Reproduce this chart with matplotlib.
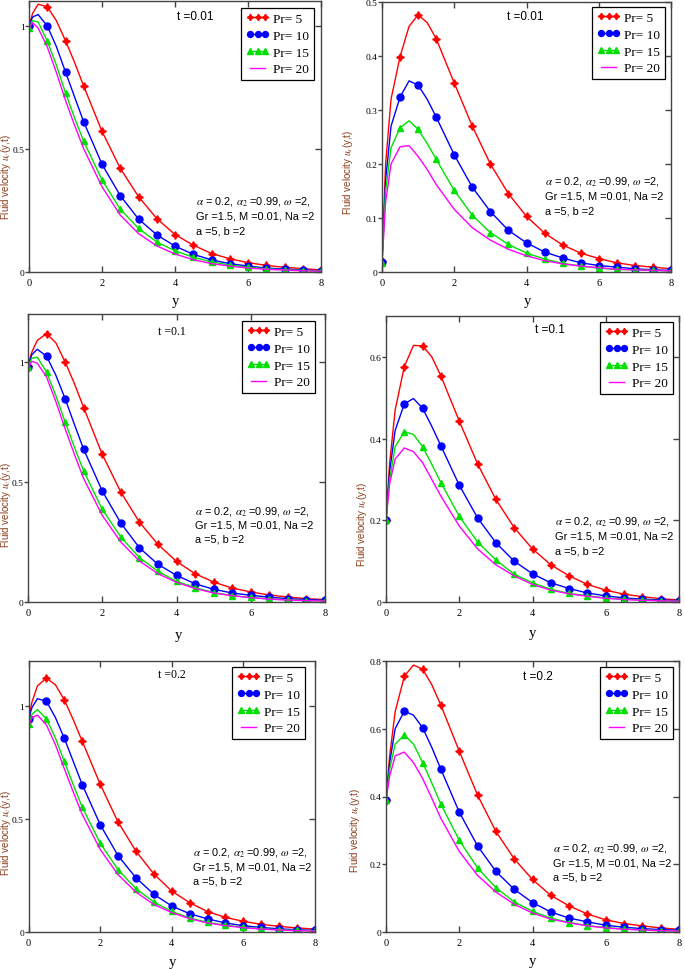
import matplotlib
matplotlib.use("Agg")
import matplotlib.pyplot as plt
from matplotlib.lines import Line2D
from matplotlib.ticker import FormatStrFormatter

# ---------------- data ----------------
Y = [0, 0.1, 0.25, 0.5, 0.75, 1, 1.25, 1.5, 2, 2.5, 3, 3.5, 4, 4.5, 5, 5.5, 6, 6.5, 7, 7.5, 8]
PR_LABELS = ["Pr= 5", "Pr= 10", "Pr= 15", "Pr= 20"]
T_LABELS = ["t =0.01", "t =0.1", "t =0.2"]

# t = 0.01, u_c
uc_t1_pr5 = [1.0, 1.05, 1.087, 1.077, 1.02, 0.939, 0.85, 0.754, 0.571, 0.421, 0.306, 0.217, 0.152, 0.109, 0.075, 0.054, 0.038, 0.027, 0.019, 0.014, 0.008]
uc_t1_pr10 = [1.0, 1.035, 1.045, 0.999, 0.915, 0.812, 0.71, 0.609, 0.4375, 0.31, 0.215, 0.151, 0.105, 0.072, 0.049, 0.034, 0.024, 0.016, 0.012, 0.008, 0.005]
uc_t1_pr15 = [0.99, 1.02, 1.015, 0.9375, 0.84, 0.727, 0.625, 0.53, 0.374, 0.255, 0.177, 0.122, 0.086, 0.06, 0.041, 0.028, 0.019, 0.013, 0.009, 0.006, 0.004]
uc_t1_pr20 = [0.99, 1.012, 0.99, 0.914, 0.81, 0.697, 0.595, 0.5, 0.346, 0.231, 0.156, 0.106, 0.073, 0.05, 0.034, 0.024, 0.016, 0.011, 0.008, 0.005, 0.003]

# t = 0.01, u_s
us_t1_pr5 = [0.02, 0.2, 0.32, 0.399, 0.455, 0.476, 0.462, 0.432, 0.35, 0.27, 0.2, 0.145, 0.103, 0.072, 0.05, 0.035, 0.025, 0.017, 0.012, 0.009, 0.006]
us_t1_pr10 = [0.019, 0.17, 0.27, 0.324, 0.354, 0.346, 0.32, 0.287, 0.217, 0.157, 0.112, 0.077, 0.054, 0.037, 0.026, 0.017, 0.012, 0.009, 0.006, 0.004, 0.003]
us_t1_pr15 = [0.017, 0.15, 0.23, 0.267, 0.28, 0.264, 0.238, 0.209, 0.151, 0.105, 0.073, 0.051, 0.035, 0.024, 0.016, 0.011, 0.007, 0.005, 0.004, 0.003, 0.002]
us_t1_pr20 = [0.015, 0.13, 0.2, 0.232, 0.234, 0.214, 0.19, 0.162, 0.116, 0.082, 0.059, 0.042, 0.03, 0.021, 0.015, 0.011, 0.008, 0.005, 0.004, 0.003, 0.002]

# t = 0.1, u_c
uc_t2_pr5 = [0.985, 1.04, 1.09, 1.118, 1.08, 1.0, 0.91, 0.81, 0.615, 0.458, 0.333, 0.24, 0.169, 0.118, 0.083, 0.058, 0.042, 0.029, 0.021, 0.014, 0.01]
uc_t2_pr10 = [0.98, 1.03, 1.053, 1.024, 0.945, 0.847, 0.74, 0.636, 0.4625, 0.329, 0.226, 0.157, 0.111, 0.076, 0.053, 0.0375, 0.028, 0.02, 0.014, 0.01, 0.007]
uc_t2_pr15 = [0.979, 1.015, 1.02, 0.958, 0.86, 0.75, 0.645, 0.546, 0.386, 0.271, 0.185, 0.128, 0.086, 0.06, 0.039, 0.027, 0.019, 0.013, 0.009, 0.006, 0.004]
uc_t2_pr20 = [0.975, 1.003, 0.995, 0.9375, 0.835, 0.722, 0.615, 0.514, 0.361, 0.25, 0.171, 0.118, 0.082, 0.056, 0.0375, 0.026, 0.018, 0.012, 0.008, 0.006, 0.004]

# t = 0.1, u_s
us_t2_pr5 = [0.2, 0.34, 0.47, 0.576, 0.628, 0.627, 0.6, 0.553, 0.443, 0.338, 0.251, 0.182, 0.13, 0.091, 0.064, 0.043, 0.029, 0.019, 0.013, 0.008, 0.005]
us_t2_pr10 = [0.2, 0.32, 0.42, 0.485, 0.498, 0.474, 0.43, 0.382, 0.286, 0.206, 0.145, 0.1, 0.069, 0.047, 0.033, 0.022, 0.015, 0.01, 0.007, 0.005, 0.003]
us_t2_pr15 = [0.2, 0.3, 0.38, 0.417, 0.41, 0.38, 0.337, 0.292, 0.21, 0.147, 0.103, 0.068, 0.047, 0.031, 0.021, 0.015, 0.01, 0.007, 0.005, 0.003, 0.002]
us_t2_pr20 = [0.2, 0.29, 0.35, 0.377, 0.368, 0.341, 0.3, 0.259, 0.186, 0.13, 0.091, 0.064, 0.043, 0.029, 0.02, 0.014, 0.009, 0.006, 0.004, 0.003, 0.002]

# t = 0.2, u_c
uc_t3_pr5 = [0.951, 1.02, 1.09, 1.124, 1.095, 1.028, 0.94, 0.845, 0.655, 0.487, 0.358, 0.257, 0.181, 0.13, 0.09, 0.065, 0.047, 0.034, 0.025, 0.018, 0.013]
uc_t3_pr10 = [0.944, 0.995, 1.033, 1.022, 0.95, 0.858, 0.755, 0.653, 0.476, 0.338, 0.24, 0.167, 0.115, 0.081, 0.058, 0.04, 0.028, 0.02, 0.014, 0.01, 0.007]
uc_t3_pr15 = [0.922, 0.965, 0.985, 0.944, 0.86, 0.755, 0.652, 0.553, 0.394, 0.276, 0.192, 0.133, 0.091, 0.062, 0.043, 0.03, 0.021, 0.014, 0.01, 0.007, 0.005]
uc_t3_pr20 = [0.91, 0.95, 0.96, 0.917, 0.83, 0.723, 0.62, 0.521, 0.366, 0.254, 0.177, 0.122, 0.086, 0.059, 0.04, 0.028, 0.019, 0.013, 0.009, 0.006, 0.004]

# t = 0.2, u_s
us_t3_pr5 = [0.389, 0.52, 0.65, 0.755, 0.788, 0.776, 0.73, 0.669, 0.534, 0.404, 0.297, 0.216, 0.155, 0.108, 0.077, 0.053, 0.036, 0.025, 0.018, 0.012, 0.008]
us_t3_pr10 = [0.389, 0.5, 0.6, 0.652, 0.64, 0.603, 0.545, 0.48, 0.354, 0.254, 0.179, 0.126, 0.087, 0.059, 0.041, 0.03, 0.02, 0.014, 0.01, 0.007, 0.005]
us_t3_pr15 = [0.389, 0.48, 0.555, 0.581, 0.555, 0.5, 0.44, 0.377, 0.271, 0.189, 0.131, 0.089, 0.061, 0.041, 0.028, 0.019, 0.013, 0.009, 0.006, 0.004, 0.003]
us_t3_pr20 = [0.389, 0.46, 0.52, 0.531, 0.5, 0.453, 0.395, 0.335, 0.238, 0.167, 0.118, 0.082, 0.056, 0.038, 0.027, 0.018, 0.012, 0.008, 0.006, 0.004, 0.003]

PANEL_SERIES = [
    [uc_t1_pr5, uc_t1_pr10, uc_t1_pr15, uc_t1_pr20],
    [us_t1_pr5, us_t1_pr10, us_t1_pr15, us_t1_pr20],
    [uc_t2_pr5, uc_t2_pr10, uc_t2_pr15, uc_t2_pr20],
    [us_t2_pr5, us_t2_pr10, us_t2_pr15, us_t2_pr20],
    [uc_t3_pr5, uc_t3_pr10, uc_t3_pr15, uc_t3_pr20],
    [us_t3_pr5, us_t3_pr10, us_t3_pr15, us_t3_pr20],
]

# ---------------- style / layout ----------------
plt.rcParams["mathtext.fontset"] = "stix"
SERIF = "Liberation Serif"
SANS = "Liberation Sans"
W, H = 685, 970
COLORS = ["#ff0000", "#0000ff", "#00e000", "#ff00ff"]
MARKERS = [(4, 1, 0), "o", "^", None]
MSIZES = [5.5, 5.0, 5.0, 0]
LABEL_COLOR = "#8a3a18"
SPINE = "#444444"

def rect(l, t, r, b):
    return [l / W, 1 - b / H, (r - l) / W, (b - t) / H]

def fx(x):
    return x / W

def fy(y):
    return 1 - y / H

PANELS = [
    dict(r=(29, 2, 321, 273), ylim=1.1, yt=[0, 0.5, 1], leg=(314, 9), tpos=(177, 17), tserif=False,
         ann=(196, 202), yl=(6, 177), xl=(175, 302), sub="c", t=0),
    dict(r=(382, 3, 671, 273), ylim=0.5, yt=[0, 0.1, 0.2, 0.3, 0.4, 0.5], leg=(665, 8), tpos=(507, 17), tserif=False,
         ann=(545, 182), yl=(348, 172), xl=(527, 302), sub="s", t=0),
    dict(r=(28, 315, 325, 603), ylim=1.2, yt=[0, 0.5, 1], leg=(315, 322), tpos=(158, 332), tserif=True,
         ann=(195, 511), yl=(6, 505), xl=(178, 635), sub="c", t=1),
    dict(r=(386, 317, 679, 603), ylim=0.7, yt=[0, 0.2, 0.4, 0.6], leg=(673, 323), tpos=(535, 330), tserif=False,
         ann=(555, 522), yl=(362, 524), xl=(532, 633), sub="s", t=1),
    dict(r=(28.5, 662, 315, 933), ylim=1.2, yt=[0, 0.5, 1], leg=(305, 668), tpos=(158, 675), tserif=True,
         ann=(193, 853), yl=(6, 833), xl=(172, 963), sub="c", t=2),
    dict(r=(386, 662, 679, 933), ylim=0.8, yt=[0, 0.2, 0.4, 0.6, 0.8], leg=(673, 668), tpos=(523, 677), tserif=False,
         ann=(553, 849), yl=(355, 830), xl=(532, 962), sub="s", t=2),
]

ANN_LINES = [r"$\alpha$ = 0.2, $\alpha_2$ =0.99, $\omega$ =2,",
             "Gr =1.5, M =0.01, Na =2",
             "a =5, b =2"]

mark_idx = [i for i, v in enumerate(Y) if abs(v * 2 - round(v * 2)) < 1e-9]

fig = plt.figure(figsize=(W / 100, H / 100), dpi=100)

for p, series in zip(PANELS, PANEL_SERIES):
    ax = fig.add_axes(rect(*p["r"]))
    for k, vals in enumerate(series):
        if MARKERS[k] is None:
            ax.plot(Y, vals, color=COLORS[k], lw=1.0)
        else:
            ax.plot(Y, vals, color=COLORS[k], lw=1.0, marker=MARKERS[k], ms=MSIZES[k],
                    markevery=mark_idx, mec=COLORS[k], mfc=COLORS[k])
    ax.set_xlim(0, 8)
    ax.set_ylim(0, p["ylim"])
    ax.set_xticks([0, 2, 4, 6, 8])
    ax.set_yticks(p["yt"])
    ax.yaxis.set_major_formatter(FormatStrFormatter("%g"))
    for s in ax.spines.values():
        s.set_color(SPINE)
        s.set_linewidth(1.0)
    ax.tick_params(axis="x", direction="in", length=4, width=1, color=SPINE, pad=4,
                   top=True, bottom=True, labelsize=7.5)
    ax.tick_params(axis="y", direction="out", length=3, width=1, color=SPINE, pad=0.3,
                   left=True, right=False, labelsize=6.8)
    sec = ax.secondary_yaxis("right")
    sec.set_yticks(p["yt"])
    sec.tick_params(direction="in", length=4, width=1, color=SPINE, labelright=False)
    sec.spines["right"].set_visible(False)
    for lab in ax.get_xticklabels() + ax.get_yticklabels():
        lab.set_fontfamily(SERIF)

    handles = []
    for k in range(4):
        handles.append(Line2D([], [], color=COLORS[k], lw=1.0,
                              marker=MARKERS[k] if MARKERS[k] is not None else None,
                              ms=MSIZES[k] * 0.85, mec=COLORS[k], mfc=COLORS[k]))
    leg = ax.legend(handles, PR_LABELS, loc="upper right",
                    bbox_to_anchor=(fx(p["leg"][0]), fy(p["leg"][1])),
                    bbox_transform=fig.transFigure, borderaxespad=0,
                    prop={"family": SERIF, "size": 9.5}, numpoints=3, handlelength=1.8,
                    handletextpad=0.3, labelspacing=0.35, borderpad=0.35,
                    fancybox=False, framealpha=1, edgecolor="black")
    leg.get_frame().set_linewidth(0.9)

    fig.text(fx(p["tpos"][0]), fy(p["tpos"][1]), T_LABELS[p["t"]], ha="left", va="center",
             fontsize=8.5, family=SERIF if p["tserif"] else SANS)
    for j, line in enumerate(ANN_LINES):
        fig.text(fx(p["ann"][0]), fy(p["ann"][1] + j * 14.5), line, ha="left", va="center",
                 fontsize=7.9, family=SANS)
    fig.text(fx(p["yl"][0]), fy(p["yl"][1]), "Fluid velocity $u_%s$(y,t)" % p["sub"],
             rotation=90, ha="center", va="center", fontsize=7.0, family=SANS, color=LABEL_COLOR)
    fig.text(fx(p["xl"][0]), fy(p["xl"][1]), "y", ha="center", va="center",
             fontsize=10.5, family=SERIF)

fig.savefig("out.png", dpi=100)
